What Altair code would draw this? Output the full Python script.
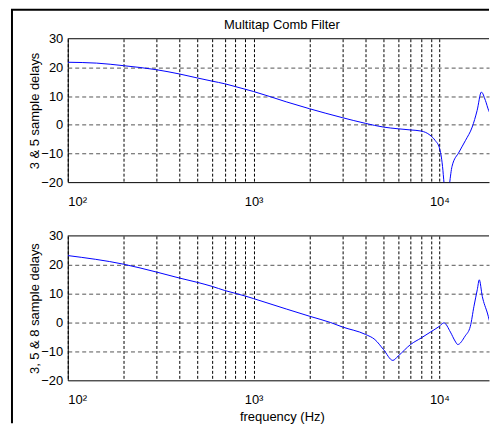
import altair as alt
import pandas as pd

FONT = "Liberation Sans"

# ---- data ----
freq_top = [100, 143, 200, 300, 400, 500, 600, 700, 800, 900, 1000, 1500, 2000, 3000, 4000,
            5000, 6000, 7000, 8000, 8900, 9500, 10000, 10400, 10600, 10950, 11350, 11700,
            12770, 13840, 15020, 15970, 16830, 17690, 18420, 19500]
db_top = [21.8, 21.5, 20.6, 19.2, 17.7, 16.3, 15.2, 14.3, 13.3, 12.4, 11.6, 8.0, 5.6, 2.5, 0.5,
          -0.8, -1.4, -1.8, -2.2, -3.6, -5.5, -8.0, -14.5, -20.5, -30.0, -20.5, -14.5,
          -9.5, -5.4, -0.8, 5.0, 11.4, 8.5, 5.0, 2.5]

freq_bot = [100, 200, 300, 400, 500, 600, 700, 800, 900, 1000, 1500, 2000, 2600, 3000, 4000,
            4500, 5000, 5620, 6000, 7000, 8000, 9000, 10000, 10580, 11470, 12150, 12560,
            13750, 14680, 15350, 16000, 16400, 17020, 18130, 19010, 19500]
db_bot = [23.2, 20.2, 17.5, 15.4, 13.9, 12.5, 11.1, 10.1, 9.2, 8.3, 4.7, 2.2, 0.0, -1.5, -4.1,
          -5.9, -9.3, -13.1, -11.6, -7.6, -5.3, -3.2, -1.3, -0.1, -3.3, -6.4, -7.6,
          -4.7, -1.3, 5.6, 11.4, 14.8, 9.1, 3.3, -1.3, -2.5]

grid_freqs = [100, 200, 300, 400, 500, 600, 700, 800, 900,
              1000, 2000, 3000, 4000, 5000, 6000, 7000, 8000, 9000, 10000]
y_ticks = [-20, -10, 0, 10, 20, 30]
x_domain = [100, 18500]
y_domain = [-20, 30]

chart_title = "Multitap Comb Filter"
ytitle_top = "3 & 5 sample delays"
ytitle_bot = "3, 5 & 8 sample delays"
xtitle = "frequency (Hz)"

W = 423
H_TOP = 144
H_BOT = 145
TITLE_CX = 215

label_expr = ("datum.value == 100 ? '10\u00b2' : datum.value == 1000 ? '10\u00b3' : "
              "datum.value == 10000 ? '10\u2074' : ''")

one = pd.DataFrame({"a": [0]})


def panel(freqs, vals, ytitle, height, with_xtitle=False, extras=()):
    df = pd.DataFrame({"f": freqs, "v": vals})
    xaxis = dict(
        values=grid_freqs, labelExpr=label_expr, labelOverlap=False,
        grid=True, gridColor="black", gridDash=[3, 2], gridWidth=1,
        domain=True, domainColor="black", domainWidth=1,
        ticks=False, labelPadding=13, labelFontSize=13, labelFont=FONT,
        labelColor="black", labelAngle=0,
    )
    if with_xtitle:
        xaxis.update(title=xtitle, titleX=TITLE_CX, titleY=40, titleAlign="center",
                     titleBaseline="alphabetic", titleFont=FONT, titleFontSize=13,
                     titleFontWeight="normal", titleColor="black")
    else:
        xaxis.update(title=None)
    x = alt.X("f:Q", scale=alt.Scale(type="log", domain=x_domain, nice=False),
              axis=alt.Axis(**xaxis))
    y = alt.Y("v:Q", scale=alt.Scale(domain=y_domain, nice=False, zero=False),
              axis=alt.Axis(
                  values=y_ticks, grid=True, gridColor="#555555", gridDash=[4, 3],
                  gridWidth=1,
                  gridOpacity={"condition": {"test": "datum.value == 30 || datum.value == -20",
                                             "value": 0}, "value": 1},
                  domain=True, domainColor="black", domainWidth=1, ticks=False,
                  labelPadding=5, labelFontSize=13, labelFont=FONT, labelColor="black",
                  title=ytitle, titleX=-33, titleY=height / 2, titleAngle=270,
                  titleAlign="center", titleBaseline="middle", titleFont=FONT,
                  titleFontSize=13, titleFontWeight="normal", titleColor="black"))
    line = alt.Chart(df).mark_line(color="#0000ff", strokeWidth=1, clip=True,
                                   interpolate="monotone").encode(x=x, y=y)
    top_border = alt.Chart(one).mark_rule(color="black", strokeWidth=1).encode(
        x=alt.value(0), x2=alt.value(W), y=alt.value(0))
    layers = [line, top_border] + list(extras)
    return alt.layer(*layers).properties(width=W, height=height)


frame_v = alt.Chart(one).mark_rule(color="black", strokeWidth=2).encode(
    x=alt.value(-56), y=alt.value(-29), y2=alt.value(386))
frame_h = alt.Chart(one).mark_rule(color="black", strokeWidth=2).encode(
    x=alt.value(-57), x2=alt.value(W), y=alt.value(-29))
title_text = alt.Chart(pd.DataFrame({"t": [chart_title]})).mark_text(
    font=FONT, fontSize=13, color="black", align="center", baseline="alphabetic").encode(
    text="t:N", x=alt.value(TITLE_CX), y=alt.value(-10))

top = panel(freq_top, db_top, ytitle_top, H_TOP, extras=(frame_v, frame_h, title_text))
bot = panel(freq_bot, db_bot, ytitle_bot, H_BOT, with_xtitle=True)

chart = alt.vconcat(top, bot, spacing=54, bounds="flush").properties(
    padding={"left": 2, "top": 0, "right": 0, "bottom": 0},
    background="white",
).configure_view(stroke=None)

chart.save("out.html", embed_options={"renderer": "svg", "actions": False})
